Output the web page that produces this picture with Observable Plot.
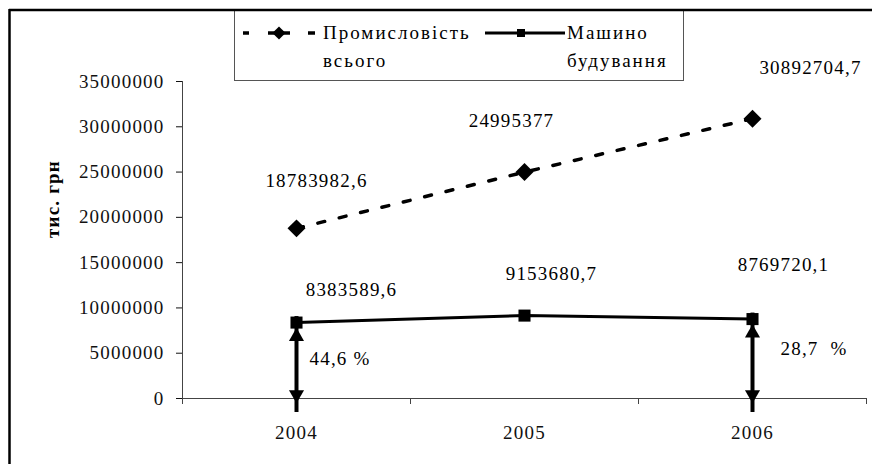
<!DOCTYPE html>
<html><head><meta charset="utf-8">
<script src="https://cdn.jsdelivr.net/npm/d3@7"></script>
<script src="https://cdn.jsdelivr.net/npm/@observablehq/plot@0.6"></script>
<style>
body{margin:0;background:#fff;}
#chart{position:relative;width:872px;height:464px;}
#chart svg, #chart svg text{font-family:"Liberation Serif","Times New Roman",serif !important;letter-spacing:1.2px;}
</style></head><body><div id="chart"></div>
<script>
const years = ["2004","2005","2006"];
const industryTotal = [18783982.6, 24995377, 30892704.7];
const machineBuilding = [8383589.6, 9153680.7, 8769720.1];
const industryLabels = ["18783982,6","24995377","30892704,7"];
const machineLabels = ["8383589,6","9153680,7","8769720,1"];
const shareYears = ["2004","2006"];
const shareLabels = ["44,6 %","28,7\u00a0 %"];
const yTicks = [0,5000000,10000000,15000000,20000000,25000000,30000000,35000000];
const legendLines = [["Промисловість","всього"],["Машино","будування"]];
const yTitle = "тис. грн";

const industry = years.map((y,i)=>({year:y, value:industryTotal[i], label:industryLabels[i]}));
const machine = years.map((y,i)=>({year:y, value:machineBuilding[i], label:machineLabels[i]}));
const shares = shareYears.map((y,i)=>({year:y, value:machineBuilding[years.indexOf(y)], label:shareLabels[i]}));

// styling (label offsets in px)
const W=872,H=464, ML=182, MR=6, MT=81, MB=66;
const FS = 19;
const bw = (W-ML-MR)/years.length;
const indOff = [[20,-47],[-13,-51],[58,-51]];
const macOff = [[55,-33],[27,-42],[31,-54]];
const shareOff = [[13,-40],[28,-50]];

const marks = [
  Plot.ruleY([0],{stroke:"#444",strokeWidth:1}),
  Plot.ruleX([years[0]],{dx:-bw/2, y1:()=>0, y2:()=>yTicks[yTicks.length-1], stroke:"#444"}),
  Plot.ruleX(years,{x:d=>d, dx:-bw/2, y1:()=>0, y2:()=>0, insetBottom:-6, stroke:"#444"}),
  Plot.ruleX([years[years.length-1]],{dx:bw/2, y1:()=>0, y2:()=>0, insetBottom:-6, stroke:"#444"}),
  Plot.line(industry,{x:"year",y:"value",stroke:"#000",strokeWidth:3.5,strokeDasharray:"7 15"}),
  Plot.line(machine,{x:"year",y:"value",stroke:"#000",strokeWidth:3}),
  Plot.ruleX(shares,{x:"year",y1:()=>0,y2:"value",stroke:"#000",strokeWidth:4,insetTop:14,insetBottom:6}),
  Plot.dot(shares,{x:"year",y:"value",symbol:"triangle",r:5.6,fill:"#000",stroke:null,dy:14}),
  Plot.dot(shares,{x:"year",y:()=>0,symbol:"triangle",r:5.6,fill:"#000",stroke:null,rotate:180,dy:-4}),
  Plot.dot(industry,{x:"year",y:"value",symbol:"diamond2",r:8.1,fill:"#000",stroke:null}),
  Plot.dot(machine,{x:"year",y:"value",symbol:"square",r:6.8,fill:"#000",stroke:null}),
  ...industry.map((d,i)=>Plot.text([d],{x:"year",y:"value",text:"label",dx:indOff[i][0],dy:indOff[i][1],fill:"#000",fontSize:FS})),
  ...machine.map((d,i)=>Plot.text([d],{x:"year",y:"value",text:"label",dx:macOff[i][0],dy:macOff[i][1],fill:"#000",fontSize:FS})),
  ...shares.map((d,i)=>Plot.text([d],{x:"year",y:()=>0,text:"label",textAnchor:"start",dx:shareOff[i][0],dy:shareOff[i][1],fill:"#000",fontSize:FS})),
  Plot.text([yTitle],{frameAnchor:"left",text:d=>d,rotate:-90,dx:-130,dy:-2,fontWeight:"bold",fontSize:FS,fill:"#000"})
];

const svg = Plot.plot({
  width:W, height:H,
  marginLeft:ML, marginRight:MR, marginTop:MT, marginBottom:MB,
  style:{fontSize:FS+"px", fontFamily:"Liberation Serif", color:"#111", background:"#fff", overflow:"visible"},
  x:{type:"band", domain:years, padding:0, tickSize:0, tickPadding:27, label:null},
  y:{domain:[0,35000000], ticks:yTicks, tickFormat:d=>String(d), tickSize:6, tickPadding:12, label:null},
  marks
});

const s = d3.select(svg);
// outer frame (left and top edges)
s.append("line").attr("x1",9.5).attr("x2",9.5).attr("y1",9).attr("y2",H).attr("stroke","#000").attr("stroke-width",2.5);
// legend
const lg = s.append("g");
lg.append("rect").attr("x",234.5).attr("y",10.5).attr("width",449).attr("height",70).attr("fill","#fff").attr("stroke","#555").attr("stroke-width",1);
s.append("line").attr("x1",9).attr("x2",W).attr("y1",10).attr("y2",10).attr("stroke","#000").attr("stroke-width",2.5);
[[243,249],[268,290],[308,315]].forEach(([a,b])=>lg.append("line").attr("x1",a).attr("x2",b).attr("y1",33).attr("y2",33).attr("stroke","#000").attr("stroke-width",3.5));
lg.append("path").attr("d",d3.symbol(d3.symbolDiamond2,110)()).attr("transform","translate(279,33)").attr("fill","#000");
lg.append("line").attr("x1",485).attr("x2",565).attr("y1",33).attr("y2",33).attr("stroke","#000").attr("stroke-width",3);
lg.append("rect").attr("x",517).attr("y",29).attr("width",8).attr("height",8).attr("fill","#000");
const lgx = [323,567];
legendLines.forEach((ls,i)=>ls.forEach((t,j)=>lg.append("text").attr("x",lgx[i]).attr("y",j?67:39).attr("text-anchor","start").attr("font-size",FS).attr("fill","#000").style("letter-spacing","2px").text(t)));
s.selectAll("text").style("font-family","'Liberation Serif', serif");

document.getElementById("chart").appendChild(svg);
</script></body></html>
